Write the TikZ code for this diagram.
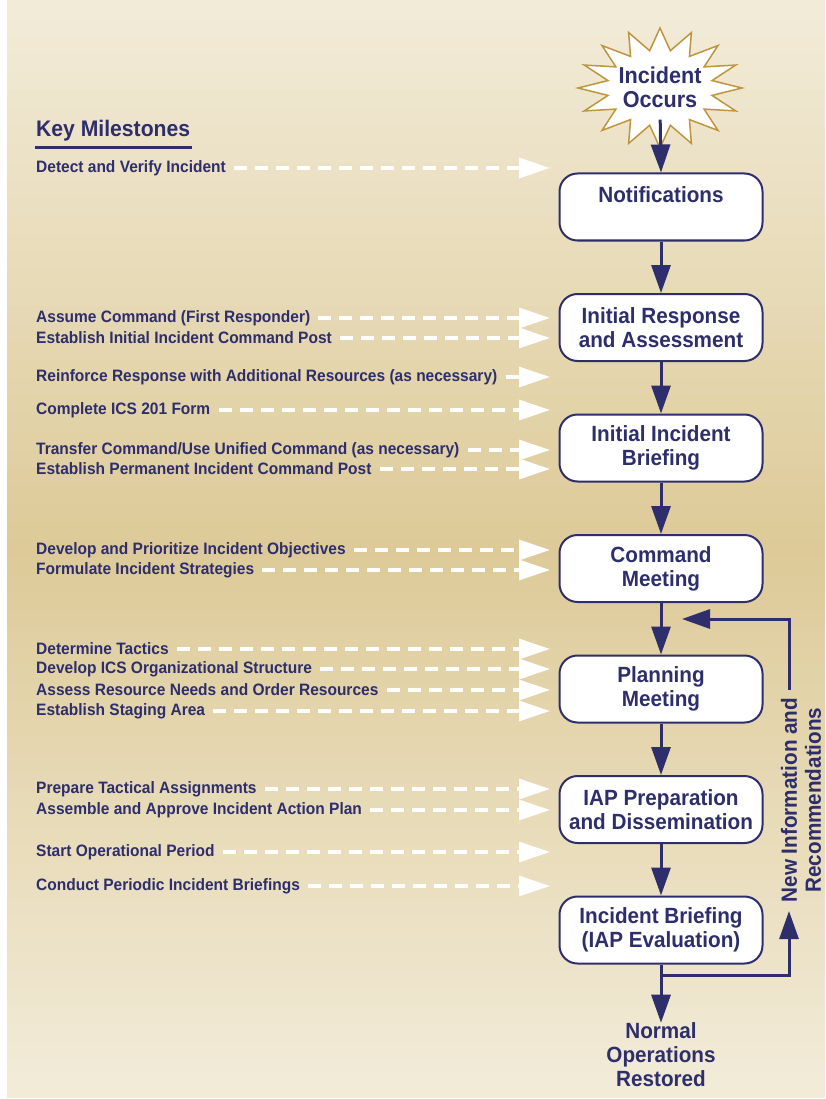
\documentclass[tikz,border=0pt]{standalone}
\usepackage{fontspec}
\setmainfont{Liberation Sans}[UprightFont={* Bold},FakeStretch=0.94]
\usepackage{tikz}
\usetikzlibrary{positioning,arrows.meta}

\definecolor{navy}{RGB}{45,46,107}
\definecolor{starline}{RGB}{190,150,62}
\definecolor{bgtop}{RGB}{242,235,216}
\definecolor{bgmid}{RGB}{221,202,152}
\definecolor{bgbot}{RGB}{242,235,215}

\begin{document}
\begin{tikzpicture}[x=1pt,y=-1pt,
  stage/.style={draw=navy,line width=2pt,fill=white,rounded corners=18pt,minimum width=203pt,minimum height=67pt,inner sep=0pt,align=center,text=navy,font=\fontsize{22}{24}\selectfont},
  flow/.style={draw=navy,line width=3pt,-{Triangle[length=28pt,width=19pt]}},
  milestone/.style={anchor=west,inner sep=0pt,text=navy,font=\fontsize{16.5}{20}\selectfont},
  cue/.style={draw=white,line width=3.2pt,dash pattern=on 13pt off 8pt,shorten <=8pt,-{Triangle[length=31pt,width=20pt]}},
  big/.style={inner sep=0pt,align=center,text=navy,font=\fontsize{22}{24}\selectfont}]
\useasboundingbox (0,0) rectangle (825,1099);
% background bands, light - tan - light
\foreach \j in {0,...,60} {
  \pgfmathsetmacro\mixp{100*abs(\j-30)/30}
  \pgfmathsetmacro\ya{\j*17.984}
  \pgfmathsetmacro\yb{\ya+18.6}
  \fill[bgtop!\mixp!bgmid] (7,\ya) rectangle (825,\yb);
}

% incident burst
\begin{scope}[shift={(660,88)}]
\draw[draw=starline,fill=white,line width=1.5pt] (90:82pt and 60pt)
  \foreach \k in {0,...,15} { -- ({90+(\k+0.5)*360/16}:53pt and 38pt) -- ({90+(\k+1)*360/16}:82pt and 60pt) } -- cycle;
\end{scope}
\node[big,font=\fontsize{23}{24}\selectfont] (burst) at (660,87) {Incident\\Occurs};

% stages
\node[stage] (notif) at (661,207) {Notifications\\~};
\node[stage,below=51.5pt of notif] (resp) {Initial Response\\and Assessment};
\node[stage,below=51.5pt of resp] (brief) {Initial Incident\\Briefing};
\node[stage,below=51.5pt of brief] (cmd) {Command\\Meeting};
\node[stage,below=51.5pt of cmd] (plan) {Planning\\Meeting};
\node[stage,below=51.5pt of plan] (iap) {IAP Preparation\\and Dissemination};
\node[stage,below=51.5pt of iap] (evalb) {Incident Briefing\\(IAP Evaluation)};
\node[big] (normal) at (661,1055) {Normal\\Operations\\Restored};

\draw[flow,shorten <=12pt] (burst.south) -- (notif.north);
\draw[flow] (notif) -- (resp);
\draw[flow] (resp) -- (brief);
\draw[flow] (brief) -- (cmd);
\draw[flow] (cmd) -- (plan);
\draw[flow] (plan) -- (iap);
\draw[flow] (iap) -- (evalb);
\draw[flow] (evalb) -- (normal);

% feedback loop
\coordinate (fbA) at (789,975);
\coordinate (fbB) at (789,911);
\coordinate (fbC) at (789,690);
\coordinate (fbD) at (789,619);
\coordinate (fbE) at (682,619);
\draw[flow] (evalb.south |- fbA) -- (fbA) -- (fbB);
\draw[flow] (fbC) -- (fbD) -- (fbE);
\node[big,rotate=90] (newinfo) at (801,800) {New Information and\\Recommendations};

% key milestones
\node[anchor=west,inner sep=0pt,text=navy,font=\fontsize{22.5}{24}\selectfont] (key) at (36,131) {Key Milestones};
\draw[navy,line width=2.5pt] ([yshift=-6pt,xshift=-1pt]key.south west) -- ([yshift=-6pt,xshift=2pt]key.south east);

\foreach \y/\mtext [count=\i] in {
  168/Detect and Verify Incident,
  318/Assume Command (First Responder),
  338/Establish Initial Incident Command Post,
  377/Reinforce Response with Additional Resources (as necessary),
  410/Complete ICS 201 Form,
  450/{Transfer Command/Use Unified Command (as necessary)},
  469/Establish Permanent Incident Command Post,
  550/Develop and Prioritize Incident Objectives,
  570/Formulate Incident Strategies,
  649/Determine Tactics,
  669/Develop ICS Organizational Structure,
  690/Assess Resource Needs and Order Resources,
  711/Establish Staging Area,
  789/Prepare Tactical Assignments,
  810/Assemble and Approve Incident Action Plan,
  852/Start Operational Period,
  886/Conduct Periodic Incident Briefings}
{
  \node[milestone] (m\i) at (36,\y) {\mtext};
  \coordinate (c\i) at (550,\y);
  \draw[cue] (m\i) -- (c\i);
}
\end{tikzpicture}
\end{document}
